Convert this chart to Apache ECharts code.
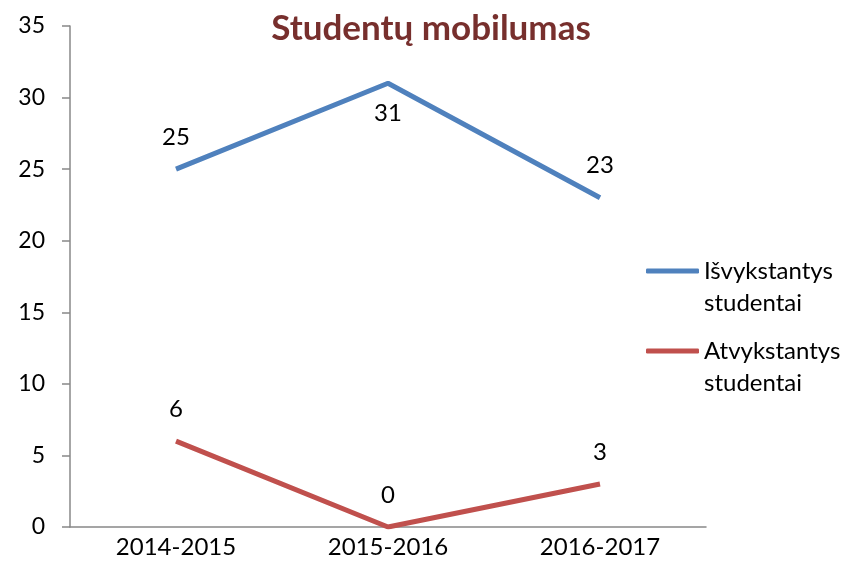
<!DOCTYPE html>
<html>
<head>
<meta charset="utf-8">
<script src="https://cdn.jsdelivr.net/npm/echarts@6/dist/echarts.min.js"></script>
<style>
  html, body { margin: 0; padding: 0; background: #fff; }
  #chart { width: 844px; height: 575px; }
</style>
</head>
<body>
<div id="chart"></div>
<script>
// duomenys
var years = ['2014-2015', '2015-2016', '2016-2017'];
var isvykstantys = [25, 31, 23];
var atvykstantys = [6, 0, 3];
var yTicks = [0, 5, 10, 15, 20, 25, 30, 35];

var myChart = echarts.init(document.getElementById('chart'));
var font = 'Lato, "Open Sans", sans-serif';

// 31 eina po tašku, kiti virš
function labeled(vals, belowIdx) {
    return vals.map(function (v, i) {
        return i === belowIdx ? { value: v, label: { position: 'bottom', distance: 18 } } : v;
    });
}

var lbl = { show: true, position: 'top', distance: 20, fontFamily: font, fontSize: 24, color: '#000' };

var option = {
    color: ['#4F81BD', '#C0504D'],
    animation: false,
    title: {
        text: 'Studentų mobilumas',
        left: 426,
        textAlign: 'center',
        top: 6,
        textStyle: { fontFamily: font, fontSize: 35, fontWeight: 'bold', color: '#772F2D' }
    },
    legend: {
        orient: 'vertical',
        left: 641,
        top: 218,
        itemWidth: 53,
        itemHeight: 5,
        itemGap: -16,
        icon: 'roundRect',
        // tuščia eilutė viršuje, kad linija būtų ties pirma teksto eilute
        formatter: function (name) { return '\n' + name; },
        textStyle: { fontFamily: font, fontSize: 24, color: '#000', lineHeight: 32 },
        data: ['Išvykstantys\nstudentai', 'Atvykstantys\nstudentai']
    },
    grid: { left: 70, right: 138, top: 26, bottom: 48 },
    xAxis: {
        type: 'category',
        data: years,
        boundaryGap: true,
        axisLine: { lineStyle: { color: '#888', width: 1.5 } },
        axisTick: { length: 8, lineStyle: { color: '#888', width: 1.5 } },
        axisLabel: { fontFamily: font, fontSize: 24, color: '#000', margin: 8 }
    },
    yAxis: {
        type: 'value',
        min: yTicks[0],
        max: yTicks[yTicks.length - 1],
        interval: 5,
        splitLine: { show: false },
        axisLine: { show: true, lineStyle: { color: '#888', width: 1.5 } },
        axisTick: { show: true, length: 8, lineStyle: { color: '#888', width: 1.5 } },
        axisLabel: { fontFamily: font, fontSize: 23, color: '#000', margin: 25 }
    },
    series: [
        {
            name: 'Išvykstantys\nstudentai',
            type: 'line',
            data: labeled(isvykstantys, 1),
            symbol: 'circle',
            symbolSize: 0.1,
            lineStyle: { width: 5 },
            label: lbl
        },
        {
            name: 'Atvykstantys\nstudentai',
            type: 'line',
            data: atvykstantys,
            symbol: 'circle',
            symbolSize: 0.1,
            lineStyle: { width: 5 },
            label: lbl
        }
    ]
};
myChart.setOption(option);
</script>
</body>
</html>
